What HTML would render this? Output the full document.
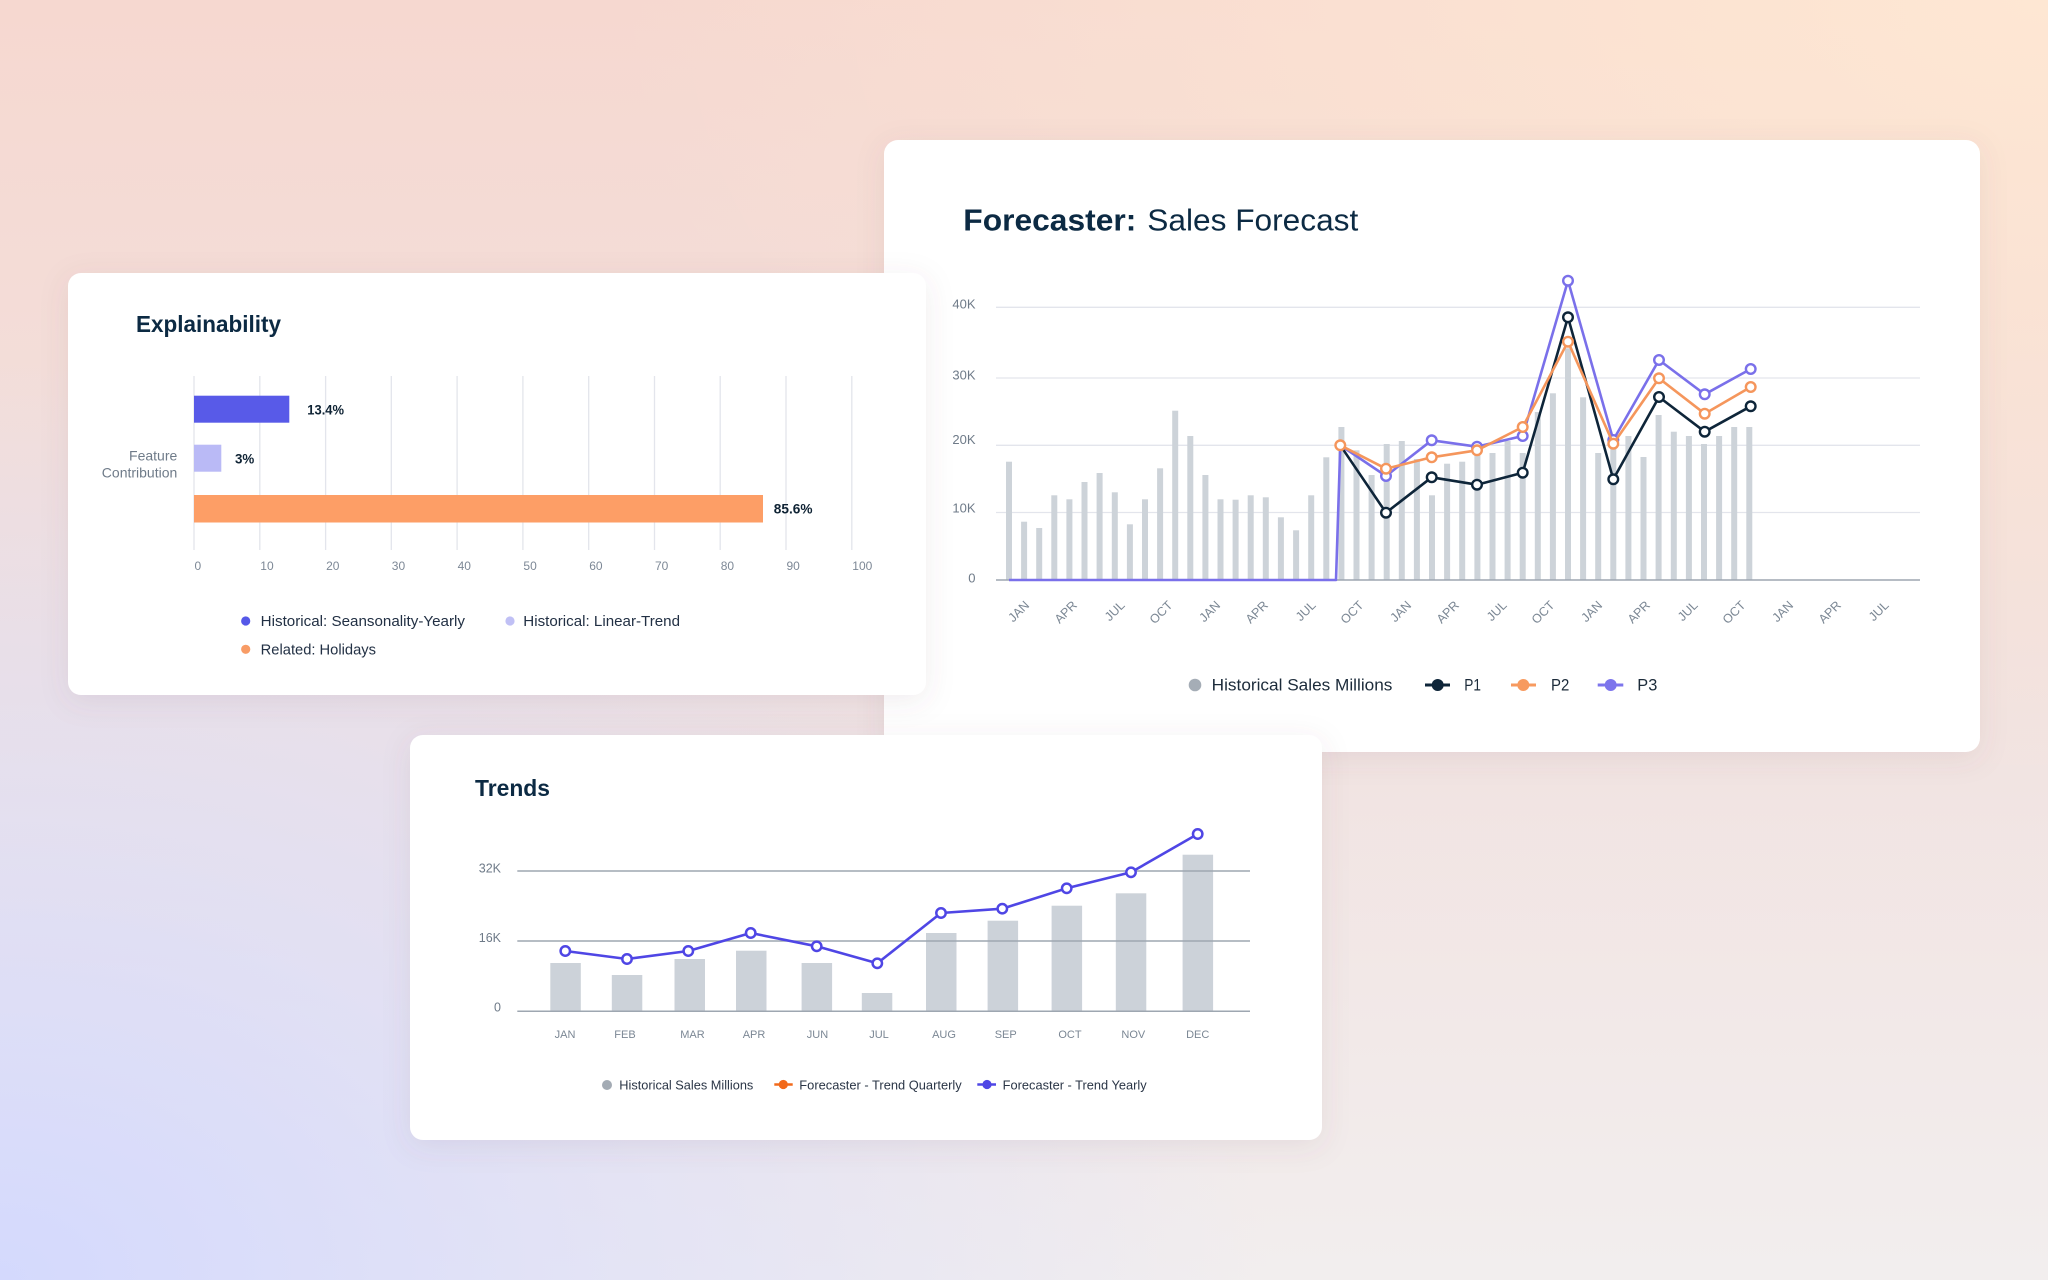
<!DOCTYPE html>
<html><head><meta charset="utf-8">
<style>
html,body{margin:0;padding:0;}
body{width:2048px;height:1280px;overflow:hidden;
background:
 radial-gradient(ellipse 62% 72% at 0% 100%, rgba(212,217,253,1) 0%, rgba(214,218,252,0.55) 45%, rgba(214,218,252,0) 100%),
 radial-gradient(ellipse 70% 62% at 100% 0%, rgba(254,231,211,1) 0%, rgba(254,231,211,0.5) 50%, rgba(254,231,211,0) 100%),
 linear-gradient(180deg, #f6d8d0 0%, #f1e1df 50%, #f2eeee 100%);}
svg{display:block}
text{font-family:"Liberation Sans",Arial,sans-serif}
</style></head><body>
<svg width="2048" height="1280" viewBox="0 0 2048 1280" xmlns="http://www.w3.org/2000/svg">
<defs>
<filter id="sh" x="-10%" y="-10%" width="120%" height="130%">
<feDropShadow dx="0" dy="6" stdDeviation="14" flood-color="#6b4a5a" flood-opacity="0.10"/>
</filter>
</defs>

<!-- ============ FORECASTER CARD ============ -->
<rect x="884" y="140" width="1096" height="612" rx="14" fill="#ffffff" filter="url(#sh)"/>
<text x="963.3" y="230.7" font-size="31" fill="#0c2a43"><tspan font-weight="bold" textLength="173" lengthAdjust="spacingAndGlyphs">Forecaster:</tspan></text>
<text x="1147.3" y="230.7" font-size="31" fill="#0c2a43" textLength="211" lengthAdjust="spacingAndGlyphs">Sales Forecast</text>

<g stroke="#e3e5ec" stroke-width="1.3">
<line x1="996" y1="307.3" x2="1920" y2="307.3"/>
<line x1="996" y1="378" x2="1920" y2="378"/>
<line x1="996" y1="445.3" x2="1920" y2="445.3"/>
<line x1="996" y1="512.5" x2="1920" y2="512.5"/>
</g>
<g font-size="13" fill="#6e7a88" text-anchor="end">
<text x="975.5" y="308.5">40K</text>
<text x="975.5" y="379.5">30K</text>
<text x="975.5" y="444">20K</text>
<text x="975.5" y="512.5">10K</text>
<text x="975.5" y="582.5">0</text>
</g>

<g fill="#cdd3d9">
<rect x="1006" y="461.7" width="6" height="118.3"/>
<rect x="1021.1" y="521.7" width="6" height="58.3"/>
<rect x="1036.2" y="528" width="6" height="52"/>
<rect x="1051.3" y="495.3" width="6" height="84.7"/>
<rect x="1066.4" y="499.3" width="6" height="80.7"/>
<rect x="1081.5" y="482" width="6" height="98"/>
<rect x="1096.6" y="473" width="6" height="107"/>
<rect x="1111.8" y="492.3" width="6" height="87.7"/>
<rect x="1126.9" y="524.3" width="6" height="55.7"/>
<rect x="1142" y="499.3" width="6" height="80.7"/>
<rect x="1157.1" y="468.3" width="6" height="111.7"/>
<rect x="1172.2" y="410.7" width="6" height="169.3"/>
<rect x="1187.3" y="436" width="6" height="144"/>
<rect x="1202.4" y="475" width="6" height="105"/>
<rect x="1217.5" y="499.3" width="6" height="80.7"/>
<rect x="1232.6" y="499.7" width="6" height="80.3"/>
<rect x="1247.7" y="495.3" width="6" height="84.7"/>
<rect x="1262.8" y="497.3" width="6" height="82.7"/>
<rect x="1277.9" y="517.3" width="6" height="62.7"/>
<rect x="1293.1" y="530.3" width="6" height="49.7"/>
<rect x="1308.2" y="495.3" width="6" height="84.7"/>
<rect x="1323.3" y="457.3" width="6" height="122.7"/>
<rect x="1338.4" y="427" width="6" height="153"/>
<rect x="1353.5" y="450.3" width="6" height="129.7"/>
<rect x="1368.6" y="475" width="6" height="105"/>
<rect x="1383.7" y="444" width="6" height="136"/>
<rect x="1398.8" y="441" width="6" height="139"/>
<rect x="1413.9" y="459" width="6" height="121"/>
<rect x="1429" y="495.3" width="6" height="84.7"/>
<rect x="1444.1" y="463.7" width="6" height="116.3"/>
<rect x="1459.2" y="461.7" width="6" height="118.3"/>
<rect x="1474.4" y="452" width="6" height="128"/>
<rect x="1489.5" y="453" width="6" height="127"/>
<rect x="1504.6" y="441" width="6" height="139"/>
<rect x="1519.7" y="453" width="6" height="127"/>
<rect x="1534.8" y="412" width="6" height="168"/>
<rect x="1549.9" y="393.3" width="6" height="186.7"/>
<rect x="1565" y="348.3" width="6" height="231.7"/>
<rect x="1580.1" y="397.3" width="6" height="182.7"/>
<rect x="1595.2" y="453" width="6" height="127"/>
<rect x="1610.3" y="447" width="6" height="133"/>
<rect x="1625.4" y="436" width="6" height="144"/>
<rect x="1640.5" y="457" width="6" height="123"/>
<rect x="1655.6" y="415" width="6" height="165"/>
<rect x="1670.8" y="431.7" width="6" height="148.3"/>
<rect x="1685.9" y="436" width="6" height="144"/>
<rect x="1701" y="444" width="6" height="136"/>
<rect x="1716.1" y="436" width="6" height="144"/>
<rect x="1731.2" y="427" width="6" height="153"/>
<rect x="1746.3" y="427" width="6" height="153"/>
</g>
<line x1="996" y1="580" x2="1920" y2="580" stroke="#9da6b1" stroke-width="1.5"/>

<g font-size="12.5" fill="#7b8794" text-anchor="end">
<text transform="translate(1030,606) rotate(-45)">JAN</text>
<text transform="translate(1077.75,606) rotate(-45)">APR</text>
<text transform="translate(1125.5,606) rotate(-45)">JUL</text>
<text transform="translate(1173.25,606) rotate(-45)">OCT</text>
<text transform="translate(1221,606) rotate(-45)">JAN</text>
<text transform="translate(1268.75,606) rotate(-45)">APR</text>
<text transform="translate(1316.5,606) rotate(-45)">JUL</text>
<text transform="translate(1364.25,606) rotate(-45)">OCT</text>
<text transform="translate(1412,606) rotate(-45)">JAN</text>
<text transform="translate(1459.75,606) rotate(-45)">APR</text>
<text transform="translate(1507.5,606) rotate(-45)">JUL</text>
<text transform="translate(1555.25,606) rotate(-45)">OCT</text>
<text transform="translate(1603,606) rotate(-45)">JAN</text>
<text transform="translate(1650.75,606) rotate(-45)">APR</text>
<text transform="translate(1698.5,606) rotate(-45)">JUL</text>
<text transform="translate(1746.25,606) rotate(-45)">OCT</text>
<text transform="translate(1794,606) rotate(-45)">JAN</text>
<text transform="translate(1841.75,606) rotate(-45)">APR</text>
<text transform="translate(1889.5,606) rotate(-45)">JUL</text>
</g>

<!-- P1 -->
<polyline fill="none" stroke="#0e2539" stroke-width="2.6" stroke-linejoin="round" points="1340.3,445.3 1386,512.7 1431.7,477.3 1477,484.7 1522.7,472.7 1568,317.3 1613.3,479.3 1659,397 1704.7,431.7 1750.7,406.3"/>
<g fill="#fff" stroke="#0e2539" stroke-width="2.4">
<circle cx="1386" cy="512.7" r="4.8"/><circle cx="1431.7" cy="477.3" r="4.8"/><circle cx="1477" cy="484.7" r="4.8"/><circle cx="1522.7" cy="472.7" r="4.8"/><circle cx="1568" cy="317.3" r="4.8"/><circle cx="1613.3" cy="479.3" r="4.8"/><circle cx="1659" cy="397" r="4.8"/><circle cx="1704.7" cy="431.7" r="4.8"/><circle cx="1750.7" cy="406.3" r="4.8"/>
</g>
<!-- P3 -->
<polyline fill="none" stroke="#7a70ea" stroke-width="2.6" stroke-linejoin="round" points="1009,580 1336,580 1340.3,445.3 1386,476 1431.7,440.3 1477,446.7 1522.7,436 1568,280.7 1613.3,440 1659,360 1704.7,394.3 1750.7,369"/>
<g fill="#fff" stroke="#7a70ea" stroke-width="2.4">
<circle cx="1386" cy="476" r="4.8"/><circle cx="1431.7" cy="440.3" r="4.8"/><circle cx="1477" cy="446.7" r="4.8"/><circle cx="1522.7" cy="436" r="4.8"/><circle cx="1568" cy="280.7" r="4.8"/><circle cx="1613.3" cy="440" r="4.8"/><circle cx="1659" cy="360" r="4.8"/><circle cx="1704.7" cy="394.3" r="4.8"/><circle cx="1750.7" cy="369" r="4.8"/>
</g>
<!-- P2 -->
<polyline fill="none" stroke="#f5965c" stroke-width="2.6" stroke-linejoin="round" points="1340.3,445.3 1386,468.7 1431.7,457.3 1477,450.3 1522.7,427 1568,341.7 1613.3,443.7 1659,378.3 1704.7,413.7 1750.7,387"/>
<g fill="#fff" stroke="#f5965c" stroke-width="2.4">
<circle cx="1340.3" cy="445.3" r="4.8"/><circle cx="1386" cy="468.7" r="4.8"/><circle cx="1431.7" cy="457.3" r="4.8"/><circle cx="1477" cy="450.3" r="4.8"/><circle cx="1522.7" cy="427" r="4.8"/><circle cx="1568" cy="341.7" r="4.8"/><circle cx="1613.3" cy="443.7" r="4.8"/><circle cx="1659" cy="378.3" r="4.8"/><circle cx="1704.7" cy="413.7" r="4.8"/><circle cx="1750.7" cy="387" r="4.8"/>
</g>

<!-- legend -->
<circle cx="1195" cy="685" r="6.3" fill="#a5adb6"/>
<text x="1211.7" y="690.7" font-size="17" fill="#1c2b3a" textLength="180.7" lengthAdjust="spacingAndGlyphs">Historical Sales Millions</text>
<line x1="1425" y1="685" x2="1450" y2="685" stroke="#0e2539" stroke-width="3"/>
<circle cx="1437.7" cy="685" r="6" fill="#0e2539"/>
<text x="1464.3" y="690.7" font-size="17" fill="#1c2b3a" textLength="16.7" lengthAdjust="spacingAndGlyphs">P1</text>
<line x1="1511" y1="685" x2="1536" y2="685" stroke="#f79a5f" stroke-width="3"/>
<circle cx="1523.3" cy="685" r="6" fill="#f79a5f"/>
<text x="1551" y="690.7" font-size="17" fill="#1c2b3a" textLength="18.3" lengthAdjust="spacingAndGlyphs">P2</text>
<line x1="1597.7" y1="685" x2="1623.3" y2="685" stroke="#7d75ec" stroke-width="3"/>
<circle cx="1610.7" cy="685" r="6" fill="#7d75ec"/>
<text x="1637.3" y="690.7" font-size="17" fill="#1c2b3a" textLength="20" lengthAdjust="spacingAndGlyphs">P3</text>

<!-- ============ EXPLAINABILITY CARD ============ -->
<rect x="68" y="273" width="858" height="422" rx="13" fill="#ffffff" filter="url(#sh)"/>
<text x="136" y="332" font-size="23" font-weight="bold" fill="#0c2a43" textLength="145" lengthAdjust="spacingAndGlyphs">Explainability</text>
<g stroke="#e3e5ec" stroke-width="1.3">
<line x1="194" y1="376" x2="194" y2="550"/>
<line x1="259.8" y1="376" x2="259.8" y2="550"/>
<line x1="325.6" y1="376" x2="325.6" y2="550"/>
<line x1="391.3" y1="376" x2="391.3" y2="550"/>
<line x1="457.1" y1="376" x2="457.1" y2="550"/>
<line x1="522.9" y1="376" x2="522.9" y2="550"/>
<line x1="588.7" y1="376" x2="588.7" y2="550"/>
<line x1="654.5" y1="376" x2="654.5" y2="550"/>
<line x1="720.2" y1="376" x2="720.2" y2="550"/>
<line x1="786" y1="376" x2="786" y2="550"/>
<line x1="851.8" y1="376" x2="851.8" y2="550"/>
</g>
<rect x="194" y="395.7" width="95.3" height="27" fill="#585ae8"/>
<rect x="194" y="444.7" width="27.3" height="27" fill="#babaf6"/>
<rect x="194" y="495" width="569" height="27.5" fill="#fd9e66"/>
<g font-size="13.5" font-weight="bold" fill="#0f2334">
<text x="307.3" y="414.3" textLength="36.7" lengthAdjust="spacingAndGlyphs">13.4%</text>
<text x="235" y="463.7" textLength="19.3" lengthAdjust="spacingAndGlyphs">3%</text>
<text x="773.8" y="513.3" textLength="38.7" lengthAdjust="spacingAndGlyphs">85.6%</text>
</g>
<g font-size="14" fill="#6f7b89" text-anchor="end">
<text x="177.3" y="460.7">Feature</text>
<text x="177.3" y="477.3">Contribution</text>
</g>
<g font-size="12" fill="#7d8896">
<text x="194.5" y="570">0</text>
<text x="260.3" y="570">10</text>
<text x="326.1" y="570">20</text>
<text x="391.8" y="570">30</text>
<text x="457.6" y="570">40</text>
<text x="523.4" y="570">50</text>
<text x="589.2" y="570">60</text>
<text x="655" y="570">70</text>
<text x="720.7" y="570">80</text>
<text x="786.5" y="570">90</text>
<text x="852.3" y="570">100</text>
</g>
<circle cx="245.7" cy="621" r="4.6" fill="#5558e8"/>
<text x="260.7" y="626" font-size="14.5" fill="#223044" textLength="204.3" lengthAdjust="spacingAndGlyphs">Historical: Seansonality-Yearly</text>
<circle cx="510" cy="621" r="4.6" fill="#c0c0f5"/>
<text x="523.3" y="626" font-size="14.5" fill="#223044" textLength="156.7" lengthAdjust="spacingAndGlyphs">Historical: Linear-Trend</text>
<circle cx="245.7" cy="649.3" r="4.6" fill="#f89c66"/>
<text x="260.7" y="654.3" font-size="14.5" fill="#223044" textLength="115.3" lengthAdjust="spacingAndGlyphs">Related: Holidays</text>

<!-- ============ TRENDS CARD ============ -->
<rect x="410" y="735" width="912" height="405" rx="13" fill="#ffffff" filter="url(#sh)"/>
<text x="475" y="796" font-size="23" font-weight="bold" fill="#0c2a43" textLength="75" lengthAdjust="spacingAndGlyphs">Trends</text>
<g fill="#ccd2d9">
<rect x="550.3" y="963" width="30.5" height="48"/>
<rect x="611.8" y="975" width="30.5" height="36"/>
<rect x="674.5" y="959" width="30.5" height="52"/>
<rect x="736" y="950.7" width="30.5" height="60.3"/>
<rect x="801.6" y="963" width="30.5" height="48"/>
<rect x="861.8" y="993" width="30.5" height="18"/>
<rect x="926" y="933" width="30.5" height="78"/>
<rect x="987.6" y="920.7" width="30.5" height="90.3"/>
<rect x="1051.6" y="905.7" width="30.5" height="105.3"/>
<rect x="1115.8" y="893.3" width="30.5" height="117.7"/>
<rect x="1182.6" y="854.7" width="30.5" height="156.3"/>
</g>
<g stroke="#9ea7b1" stroke-width="1.5">
<line x1="517.3" y1="871" x2="1250" y2="871"/>
<line x1="517.3" y1="941" x2="1250" y2="941"/>
<line x1="517.3" y1="1011.3" x2="1250" y2="1011.3"/>
</g>
<g font-size="12.5" fill="#6e7a88" text-anchor="end">
<text x="501" y="872.7">32K</text>
<text x="501" y="942">16K</text>
<text x="501" y="1011.7">0</text>
</g>
<polyline fill="none" stroke="#4f46e5" stroke-width="2.6" stroke-linejoin="round" points="565.3,951 627,959 688.3,951 750.7,933 816.7,946.3 877.3,963.3 941,913 1002.3,908.7 1066.7,888.3 1131,872.3 1197.7,834"/>
<g fill="#fff" stroke="#4f46e5" stroke-width="2.5">
<circle cx="565.3" cy="951" r="4.7"/><circle cx="627" cy="959" r="4.7"/><circle cx="688.3" cy="951" r="4.7"/><circle cx="750.7" cy="933" r="4.7"/><circle cx="816.7" cy="946.3" r="4.7"/><circle cx="877.3" cy="963.3" r="4.7"/><circle cx="941" cy="913" r="4.7"/><circle cx="1002.3" cy="908.7" r="4.7"/><circle cx="1066.7" cy="888.3" r="4.7"/><circle cx="1131" cy="872.3" r="4.7"/><circle cx="1197.7" cy="834" r="4.7"/>
</g>
<g font-size="11" fill="#7b8794" text-anchor="middle">
<text x="565" y="1038">JAN</text>
<text x="625" y="1038">FEB</text>
<text x="692.5" y="1038">MAR</text>
<text x="754" y="1038">APR</text>
<text x="817.5" y="1038">JUN</text>
<text x="879" y="1038">JUL</text>
<text x="944" y="1038">AUG</text>
<text x="1005.7" y="1038">SEP</text>
<text x="1070" y="1038">OCT</text>
<text x="1133.3" y="1038">NOV</text>
<text x="1197.7" y="1038">DEC</text>
</g>
<circle cx="607" cy="1085" r="5" fill="#a3abb4"/>
<text x="619.3" y="1089.3" font-size="12.5" fill="#2a3546" textLength="134" lengthAdjust="spacingAndGlyphs">Historical Sales Millions</text>
<line x1="774.3" y1="1084.5" x2="792.7" y2="1084.5" stroke="#f26a1b" stroke-width="2.5"/>
<circle cx="783.3" cy="1084.5" r="4.6" fill="#f26a1b"/>
<text x="799.3" y="1089.3" font-size="12.5" fill="#2a3546" textLength="162.4" lengthAdjust="spacingAndGlyphs">Forecaster - Trend Quarterly</text>
<line x1="977.3" y1="1084.5" x2="996" y2="1084.5" stroke="#4f46e5" stroke-width="2.5"/>
<circle cx="987" cy="1084.5" r="4.6" fill="#4f46e5"/>
<text x="1002.7" y="1089.3" font-size="12.5" fill="#2a3546" textLength="144" lengthAdjust="spacingAndGlyphs">Forecaster - Trend Yearly</text>
</svg>
</body></html>
